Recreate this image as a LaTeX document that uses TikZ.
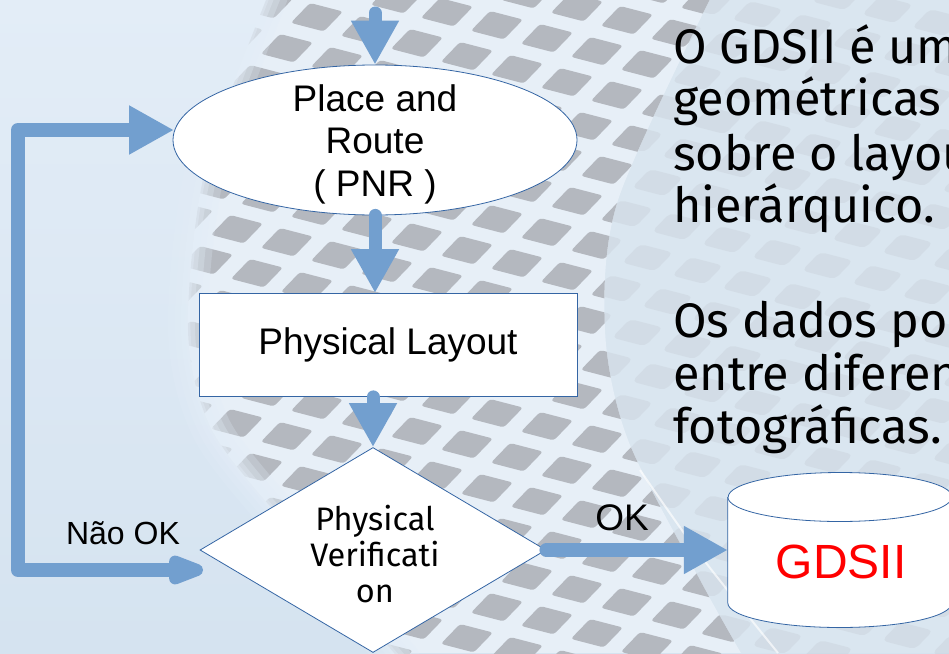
\documentclass[tikz,border=0pt]{standalone}
\usepackage{fontspec}
\setmainfont{Liberation Sans}
\newfontfamily\bodyfont{Fira Sans}
\usetikzlibrary{shapes.geometric,arrows.meta,calc}
\definecolor{flowblue}{HTML}{729FCF}
\definecolor{edgeblue}{HTML}{3465A4}
\definecolor{skyA}{HTML}{E3EDF7}
\definecolor{skyB}{HTML}{D5E3F0}
\definecolor{diegray}{HTML}{B4B8BF}
\definecolor{street}{HTML}{E7EFF7}
\definecolor{haze}{HTML}{DAE6F0}
\definecolor{gdsred}{HTML}{FF0000}
\begin{document}
\begin{tikzpicture}[x=1pt,y=-1pt,
  flow/.style={draw=edgeblue, line width=0.8pt, fill=white},
  link/.style={draw=flowblue, line width=13pt, line cap=round,
    -{Triangle[length=44pt,width=45pt]}},
  bodytext/.style={anchor=base west, inner sep=0pt,
    font=\bodyfont\fontsize{48.5}{53}\selectfont},
  label/.style={anchor=base, inner sep=0pt},
  dielattice/.style={x={(50pt,-13pt)},y={(-30pt,-31pt)}}]
\useasboundingbox (0,0) rectangle (949,653);
\clip (0,0) rectangle (949,653);

% ---------- background: wafer photo ----------
\shade[top color=skyA, bottom color=skyB] (0,0) rectangle (949,653);

% out-of-focus part of the wafer (right)
\begin{scope}
  \clip plot[smooth] coordinates {(712,-5) (618,200) (605,330) (628,440) (700,580) (745,660)}
    -- (960,660) -- (960,-5) -- cycle;
  \fill[haze] (0,0) rectangle (949,653);
  \begin{scope}[dielattice]
    \foreach \i in {-1,...,26}{
      \foreach \j in {-7,...,17}{
        \fill[diegray, opacity=0.2, rounded corners=5pt]
          (\i,\j) -- ++(0.66,0) -- ++(0,0.6) -- ++(-0.66,0) -- cycle;
      }}
  \end{scope}
\end{scope}

% sharp die grid band
\begin{scope}
  \clip plot[smooth] coordinates {(268,-5) (205,170) (188,330) (212,430) (290,530) (400,660)}
    -- plot[smooth] coordinates {(745,660) (700,580) (628,440) (605,330) (618,200) (712,-5)}
    -- cycle;
  \fill[street] (0,0) rectangle (949,653);
  \begin{scope}[dielattice]
    \foreach \i in {-1,...,26}{
      \foreach \j in {-7,...,17}{
        \fill[diegray, rounded corners=3pt]
          (\i,\j) -- ++(0.66,0) -- ++(0,0.64) -- ++(-0.66,0) -- cycle;
      }}
  \end{scope}
\end{scope}
% soft wafer rim on the left
\foreach \w/\o in {40/0.25,26/0.3,14/0.35,5/0.4}
  \draw[skyA, line width=\w pt, opacity=\o, line cap=round]
    plot[smooth] coordinates {(268,-5) (205,170) (188,330) (212,430) (290,530) (400,660)};
% reflection along the wafer edge
\draw[white, line width=2pt, opacity=0.65]
  plot[smooth] coordinates {(640,470) (700,555) (778,653)};

% ---------- flowchart ----------
\node[ellipse, flow, minimum width=404pt, minimum height=150pt, inner sep=0pt]
  (pnr) at (375,140) {};
\node[align=center, inner sep=0pt, font=\fontsize{37}{42.5}\selectfont]
  (pnrtext) at (375,144) {Place and\\Route\\( PNR )};

\node[rectangle, flow, minimum width=378pt, minimum height=103pt,
  font=\fontsize{37}{43}\selectfont] (pl) at (388,345) {Physical Layout};

\node[diamond, flow, minimum width=346pt, minimum height=205pt, shape aspect=1.69,
  inner sep=0pt] (pv) at (373,550) {};
\node[align=center, inner sep=0pt, font=\bodyfont\fontsize{32.5}{36}\selectfont]
  (pvtext) at (375,554) {Physical\\Verificati\\on};

% GDSII storage cylinder
\node[minimum width=224pt, minimum height=154pt, inner sep=0pt] (gds) at (840,550) {};
\fill[white] (gds.west |- 0,497) -- (gds.west |- 0,603)
  arc[start angle=180, end angle=360, x radius=112pt, y radius=24.5pt]
  -- (gds.east |- 0,497)
  arc[start angle=0, end angle=180, x radius=112pt, y radius=24.5pt] -- cycle;
\draw[edgeblue, line width=0.8pt] (gds.west |- 0,497) -- (gds.west |- 0,603)
  arc[start angle=180, end angle=360, x radius=112pt, y radius=24.5pt]
  -- (gds.east |- 0,497)
  arc[start angle=0, end angle=180, x radius=112pt, y radius=24.5pt];
\draw[edgeblue, line width=0.8pt] (gds.west |- 0,497)
  arc[start angle=180, end angle=360, x radius=112pt, y radius=24.5pt];
\node[label, text=gdsred, font=\fontsize{48}{50}\selectfont] (gdslabel) at (841,578) {GDSII};

% connectors
\coordinate (src) at (375,13);
\draw[link] (src) -- (pnr.north);
\draw[link] (pnr.south) -- (pnr.south |- pl.north);
\draw[link] (pl.south -| pv.north) -- (pv.north);
\draw[link, line width=14pt] (pv.east) -- (gds.west);

\coordinate (nokend) at (203,570);
\coordinate (bendlow) at (18,570);
\coordinate (bendup) at (18,130);
\coordinate (pnrin) at (174,130);
\draw[flowblue, line width=14pt, line join=round,
  {Triangle[length=48pt,width=30pt,round]}-{Triangle[length=45pt,width=46pt]}]
  (nokend) -- (bendlow) -- (bendup) -- (pnrin);

\node[label, font=\fontsize{32}{36}\selectfont] (nok) at (123,544) {Não OK};
\node[label, font=\fontsize{37}{42}\selectfont] (ok) at (622,530) {OK};

% ---------- text on the right ----------
\node[bodytext] (l1) at (673,63) {O GDSII é um};
\node[bodytext] (l2) at (673,115) {geométricas};
\node[bodytext] (l3) at (673,170) {sobre o layout};
\node[bodytext] (l4) at (673,222) {hierárquico.};
\node[bodytext] (l5) at (673,337) {Os dados podem};
\node[bodytext] (l6) at (673,390) {entre diferentes};
\node[bodytext] (l7) at (673,443) {fotográficas.};
\end{tikzpicture}
\end{document}
